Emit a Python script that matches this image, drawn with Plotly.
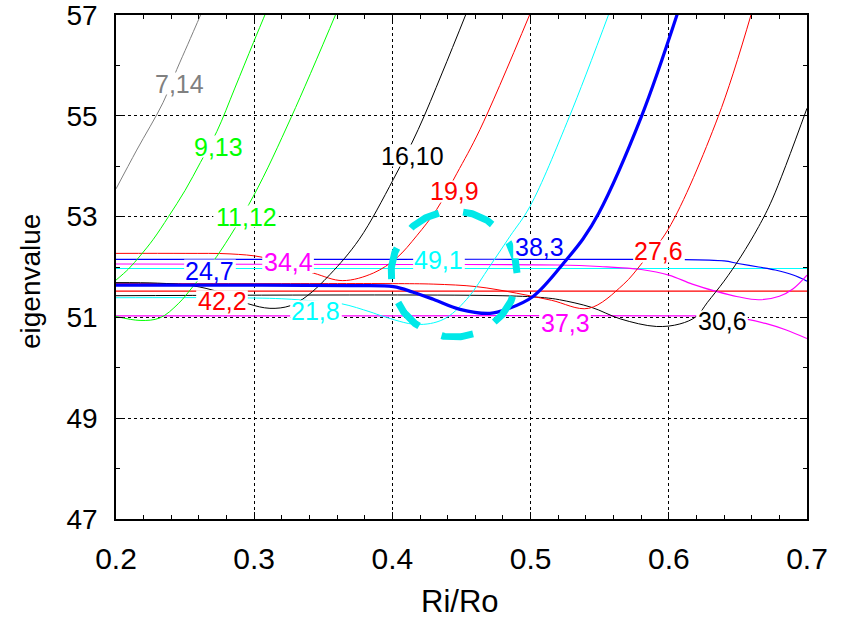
import numpy as np
import plotly.graph_objects as go

# Eigenvalue branches versus radius ratio Ri/Ro, one pair of lists per labelled mode
ri_7_14 = [0.200, 0.215, 0.234, 0.244, 0.252, 0.262]
ev_7_14 = [53.55, 54.32, 55.26, 55.92, 56.42, 57.05]

ri_9_13 = [0.200, 0.209, 0.2174, 0.227, 0.238, 0.250, 0.261, 0.273, 0.286, 0.2994, 0.310]
ev_9_13 = [51.74, 51.96, 52.22, 52.55, 53.00, 53.52, 54.07, 54.69, 55.55, 56.45, 57.15]

ri_11_12 = [0.200, 0.2174, 0.2318, 0.245, 0.2559, 0.2729, 0.2993, 0.3271, 0.3600]
ev_11_12 = [51.02, 50.94, 50.99, 51.27, 51.62, 52.21, 53.40, 54.99, 57.08]

ri_16_10 = [0.200, 0.230, 0.255, 0.275, 0.2957, 0.3114, 0.3259, 0.338, 0.3548,
            0.376, 0.4007, 0.4187, 0.436, 0.454]
ev_16_10 = [51.69, 51.68, 51.63, 51.50, 51.27, 51.18, 51.23, 51.42, 51.85,
            52.55, 53.74, 54.73, 55.85, 57.07]

ri_19_9 = [0.200, 0.250, 0.2825, 0.3066, 0.3428, 0.3640, 0.3862, 0.4031, 0.4176,
           0.432, 0.4465, 0.4634, 0.500]
ev_19_9 = [52.27, 52.27, 52.26, 52.19, 51.88, 51.73, 51.88, 52.18, 52.62,
           53.14, 53.85, 54.73, 57.05]

ri_21_8 = [0.200, 0.280, 0.320, 0.345, 0.3633, 0.3838, 0.3934, 0.4176, 0.4368,
           0.4538, 0.4706, 0.4851, 0.4995, 0.528, 0.557]
ev_21_8 = [51.39, 51.39, 51.37, 51.32, 51.27, 51.11, 51.02, 50.86, 50.96,
           51.36, 52.02, 52.61, 53.20, 54.98, 57.05]

ri_24_7 = [0.200, 0.300, 0.370, 0.4007, 0.415, 0.4296, 0.4489, 0.4706, 0.4827,
           0.502, 0.5261, 0.538, 0.5490, 0.5801, 0.6065]
ev_24_7 = [51.64, 51.64, 51.63, 51.61, 51.50, 51.36, 51.16, 51.08, 51.16,
           51.42, 52.15, 52.56, 53.05, 54.98, 57.05]

ri_27_6 = [0.200, 0.300, 0.400, 0.430, 0.461, 0.490, 0.515, 0.542, 0.567,
           0.581, 0.5994, 0.6357, 0.660]
ev_27_6 = [51.67, 51.67, 51.67, 51.66, 51.61, 51.48, 51.34, 51.18, 51.65,
           52.09, 52.74, 54.98, 57.05]

ri_30_6 = [0.200, 0.480, 0.510, 0.521, 0.544, 0.565, 0.591, 0.608, 0.620,
           0.628, 0.640, 0.652, 0.665, 0.675, 0.700]
ev_30_6 = [51.43, 51.43, 51.39, 51.35, 51.20, 50.97, 50.82, 50.87, 51.02,
           51.30, 51.72, 52.20, 52.80, 53.35, 55.15]

ri_34_4 = [0.200, 0.400, 0.520, 0.550, 0.580, 0.600, 0.617, 0.635, 0.650,
           0.665, 0.680, 0.690, 0.700]
ev_34_4 = [52.06, 52.05, 52.04, 52.01, 51.95, 51.84, 51.66, 51.51, 51.41,
           51.35, 51.42, 51.57, 51.84]

ri_37_3 = [0.200, 0.400, 0.620, 0.640, 0.657, 0.670, 0.685, 0.700]
ev_37_3 = [51.03, 51.03, 51.03, 51.01, 50.96, 50.88, 50.75, 50.58]

ri_38_3 = [0.200, 0.400, 0.600, 0.640, 0.650, 0.665, 0.677, 0.690, 0.700]
ev_38_3 = [52.15, 52.15, 52.15, 52.12, 52.07, 52.00, 51.94, 51.84, 51.72]

ri_42_2 = [0.200, 0.450, 0.700]
ev_42_2 = [51.52, 51.52, 51.52]

ri_49_1 = [0.200, 0.450, 0.700]
ev_49_1 = [51.97, 51.97, 51.97]

# Mode labels and where they sit on the chart
label_text = ["7,14", "9,13", "11,12", "16,10", "19,9", "24,7", "34,4",
              "42,2", "21,8", "49,1", "38,3", "27,6", "37,3", "30,6"]
label_ri = [0.2456, 0.2745, 0.2941, 0.4149, 0.4446, 0.2680, 0.3245,
            0.2767, 0.3447, 0.4337, 0.5061, 0.5929, 0.5249, 0.6385]
label_ev = [55.64, 54.39, 53.00, 54.21, 53.50, 51.93, 52.10,
            51.32, 51.12, 52.13, 52.39, 52.31, 50.88, 50.92]

# Highlighted avoided-crossing region
ring_ri, ring_ev = 0.4446, 51.86

RED, BLUE, MAG, CYAN = "#ff0000", "#0000ff", "#ff00ff", "#00ffff"
GREEN, BLACK, GRAY = "#00ff00", "#000000", "#808080"

mode_color = {
    "7,14": GRAY, "9,13": GREEN, "11,12": GREEN, "16,10": BLACK, "19,9": RED,
    "21,8": CYAN, "24,7": BLUE, "27,6": RED, "30,6": BLACK, "34,4": MAG,
    "37,3": MAG, "38,3": BLUE, "42,2": RED, "49,1": CYAN,
}

# drawing order: flat branches first, steep branches next, highlighted branch last
branches = [
    ("49,1", ri_49_1, ev_49_1, 1.2),
    ("42,2", ri_42_2, ev_42_2, 1.2),
    ("38,3", ri_38_3, ev_38_3, 1.2),
    ("37,3", ri_37_3, ev_37_3, 1.2),
    ("34,4", ri_34_4, ev_34_4, 1.2),
    ("30,6", ri_30_6, ev_30_6, 1.0),
    ("27,6", ri_27_6, ev_27_6, 1.0),
    ("21,8", ri_21_8, ev_21_8, 1.0),
    ("19,9", ri_19_9, ev_19_9, 1.0),
    ("16,10", ri_16_10, ev_16_10, 1.0),
    ("11,12", ri_11_12, ev_11_12, 1.0),
    ("9,13", ri_9_13, ev_9_13, 1.0),
    ("7,14", ri_7_14, ev_7_14, 1.0),
    ("24,7", ri_24_7, ev_24_7, 3.2),
]

FONT = "Liberation Sans, Arial, sans-serif"
W, H = 848, 618
L, R, T, B = 116, 41, 15, 99
XR, YR = (0.2, 0.7), (47, 57)
px_per_x = (W - L - R) / (XR[1] - XR[0])
px_per_y = (H - T - B) / (YR[1] - YR[0])

fig = go.Figure()
for name, xs, ys, lw in branches:
    fig.add_trace(go.Scatter(
        x=xs, y=ys, mode="lines", name=name, showlegend=False, hoverinfo="skip",
        line=dict(color=mode_color[name], width=lw, shape="spline", smoothing=1.0),
    ))

# dashed ring of 63 px radius around the crossing
ring_r = 63
theta = np.radians(np.linspace(1, 362, 400))
fig.add_trace(go.Scatter(
    x=ring_ri + ring_r / px_per_x * np.cos(theta),
    y=ring_ev + ring_r / px_per_y * np.sin(theta),
    mode="lines", showlegend=False, hoverinfo="skip",
    line=dict(color="#00e8e8", width=7, dash="32px,24.5px"),
))

# labels: white boxes hugging the glyphs, then the text itself
fs = 25
char_w = {",": 0.278}
shapes = []
annotations = []
for txt, lx, ly in zip(label_text, label_ri, label_ev):
    w = fs * sum(char_w.get(c, 0.556) for c in txt) + 3
    h = 0.72 * fs + 4
    shapes.append(dict(
        type="rect", xref="x", yref="y", xsizemode="pixel", ysizemode="pixel",
        xanchor=lx, yanchor=ly, x0=-w / 2, x1=w / 2, y0=-h / 2, y1=h / 2,
        fillcolor="white", line=dict(width=0), layer="above",
    ))
    annotations.append(dict(
        x=lx, y=ly, xref="x", yref="y", text=txt, showarrow=False,
        xanchor="center", yanchor="middle",
        font=dict(family=FONT, size=fs, color=mode_color[txt]),
    ))

annotations.append(dict(
    text="eigenvalue", xref="paper", yref="paper", x=(30 - L) / (W - L - R),
    y=((H - B) - 282) / (H - T - B), textangle=-90, showarrow=False,
    xanchor="center", yanchor="middle", font=dict(family=FONT, size=28, color="black"),
))
annotations.append(dict(
    text="Ri/Ro", xref="paper", yref="paper", x=(460 - L) / (W - L - R),
    y=((H - B) - 601) / (H - T - B), showarrow=False,
    xanchor="center", yanchor="middle", font=dict(family=FONT, size=31, color="black"),
))

axis_common = dict(
    showgrid=True, gridcolor="black", gridwidth=1, griddash="dot",
    showline=True, linecolor="black", linewidth=1.5, mirror="ticks",
    ticks="inside", ticklen=7, tickwidth=1, tickcolor="black",
    zeroline=False, ticklabeloverflow="allow", automargin=False,
)
fig.update_xaxes(
    range=list(XR), tick0=0.2, dtick=0.1, tickformat=".1f", ticklabelstandoff=12,
    tickfont=dict(family=FONT, size=30, color="black"),
    minor=dict(dtick=0.02, ticks="inside", ticklen=4, tickcolor="black", showgrid=False),
    **axis_common,
)
fig.update_yaxes(
    range=list(YR), tick0=47, dtick=2, ticklabelstandoff=11,
    tickfont=dict(family=FONT, size=28, color="black"),
    minor=dict(dtick=1, ticks="inside", ticklen=4, tickcolor="black", showgrid=False),
    **axis_common,
)
fig.update_layout(
    width=W, height=H, autosize=False,
    margin=dict(l=L, r=R, t=T, b=B, autoexpand=False),
    paper_bgcolor="white", plot_bgcolor="white",
    shapes=shapes, annotations=annotations,
    font=dict(family=FONT),
)
fig.write_html("out.html")
